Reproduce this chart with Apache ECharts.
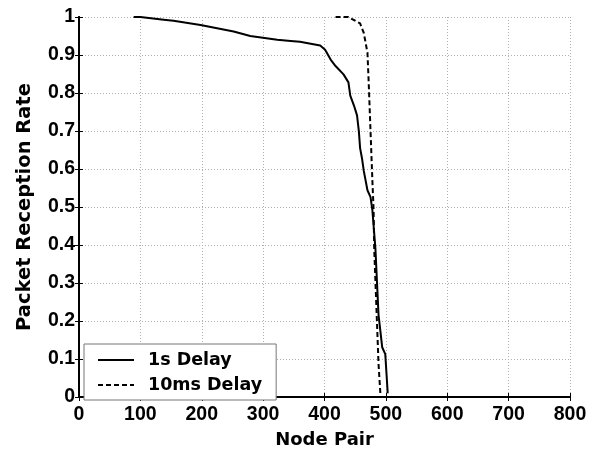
<!DOCTYPE html>
<html>
<head>
<meta charset="utf-8">
<script src="https://cdn.jsdelivr.net/npm/echarts@6/dist/echarts.min.js"></script>
<style>
  html, body { margin: 0; padding: 0; background: #fff; }
  #chart { width: 594px; height: 454px; }
</style>
</head>
<body>
<div id="chart"></div>
<script>
// 1s Delay (solid line)
var slowPairs = [89, 100, 138, 154, 198, 252, 279, 323, 345, 360, 393, 401, 410, 418, 431, 439, 442, 448, 453, 456, 458, 461, 464, 470, 475, 478, 483, 488, 494, 499, 503];
var slowRate = [1.0, 1.0, 0.993, 0.99, 0.979, 0.962, 0.95, 0.94, 0.937, 0.935, 0.925, 0.914, 0.888, 0.871, 0.849, 0.828, 0.793, 0.767, 0.741, 0.699, 0.655, 0.629, 0.595, 0.544, 0.526, 0.492, 0.389, 0.217, 0.131, 0.113, 0.01];

// 10ms Delay (dashed line)
var fastPairs = [418, 439, 458, 464, 470, 472, 475, 478, 480, 481, 485, 488, 491];
var fastRate = [1.0, 1.0, 0.983, 0.958, 0.906, 0.828, 0.699, 0.57, 0.492, 0.389, 0.217, 0.088, 0.01];

var seriesNames = ['1s Delay', '10ms Delay'];

function zip(xs, ys) {
  return xs.map(function (x, i) { return [x, ys[i]]; });
}

var tickFont = 'Liberation Sans';
var nameFont = 'DejaVu Sans';
var gridLine = { show: true, lineStyle: { color: '#b0b0b0', type: [1, 2], width: 1 } };
var frame = { show: true, lineStyle: { color: '#000', width: 2 } };
var tick = { show: true, inside: true, length: 4, lineStyle: { color: '#000', width: 1 } };
var tickLabel = { fontFamily: tickFont, fontWeight: 'bold', fontSize: 19.5, color: '#000' };

var chart = echarts.init(document.getElementById('chart'));
chart.setOption({
  animation: false,
  backgroundColor: '#fff',
  grid: { left: 79, right: 24, top: 17, bottom: 50 },
  legend: {
    data: seriesNames,
    orient: 'vertical',
    left: 84,
    top: 344,
    padding: [6, 14, 5, 13],
    itemGap: 5,
    itemWidth: 36,
    itemHeight: 14,
    backgroundColor: '#fff',
    borderColor: '#777',
    borderWidth: 1,
    itemStyle: { opacity: 0 },
    textStyle: { fontFamily: nameFont, fontWeight: 'bold', fontSize: 17.5, color: '#000', lineHeight: 20, padding: [0, 0, 0, 9] }
  },
  xAxis: [{
    type: 'value', min: 0, max: 800, interval: 100,
    name: 'Node Pair', nameLocation: 'middle', nameGap: 34,
    nameTextStyle: { fontFamily: nameFont, fontWeight: 'bold', fontSize: 18, color: '#000' },
    axisLabel: Object.assign({ margin: 8 }, tickLabel),
    axisLine: frame, axisTick: tick, splitLine: gridLine
  }, {
    type: 'value', min: 0, max: 800, interval: 100, position: 'top',
    axisLabel: { show: false }, axisLine: frame, axisTick: tick, splitLine: { show: false }
  }],
  yAxis: [{
    type: 'value', min: 0, max: 1, interval: 0.1,
    name: 'Packet Reception Rate', nameLocation: 'middle', nameGap: 44,
    nameTextStyle: { fontFamily: nameFont, fontWeight: 'bold', fontSize: 19.5, color: '#000' },
    axisLabel: Object.assign({ margin: 4 }, tickLabel),
    axisLine: frame, axisTick: tick, splitLine: gridLine
  }, {
    type: 'value', min: 0, max: 1, interval: 0.1, position: 'right',
    axisLabel: { show: false }, axisLine: frame, axisTick: tick, splitLine: { show: false }
  }],
  series: [{
    name: seriesNames[0], type: 'line', symbol: 'none', z: 3,
    data: zip(slowPairs, slowRate),
    lineStyle: { color: '#000', width: 2, type: 'solid' },
    itemStyle: { color: '#000' }
  }, {
    name: seriesNames[1], type: 'line', symbol: 'none', z: 3,
    data: zip(fastPairs, fastRate),
    lineStyle: { color: '#000', width: 2, type: [5, 3] },
    itemStyle: { color: '#000' }
  }]
});
</script>
</body>
</html>
